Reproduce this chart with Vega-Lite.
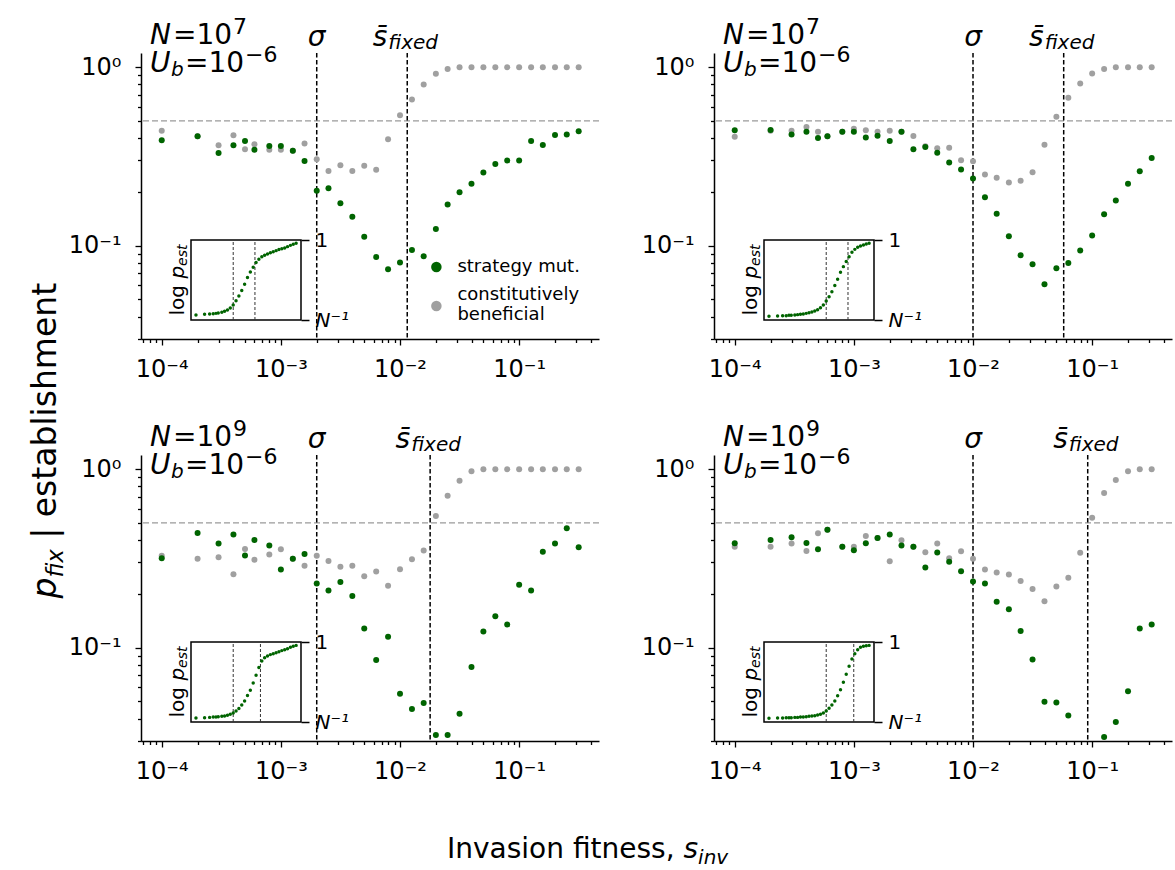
{
"$schema":"https://vega.github.io/schema/vega-lite/v6.json",
"background":"white",
"padding":{"left":0,"top":15,"right":0,"bottom":0},
"config":{"view":{"stroke":null},"font":"DejaVu Sans","text":{"color":"black"}},
"datasets":{
"lines":[
{"panel":"A","kind":"sigma","s":0.002},{"panel":"A","kind":"sfix","s":0.0115},
{"panel":"B","kind":"sigma","s":0.01},{"panel":"B","kind":"sfix","s":0.0577},
{"panel":"C","kind":"sigma","s":0.002},{"panel":"C","kind":"sfix","s":0.0179},
{"panel":"D","kind":"sigma","s":0.01},{"panel":"D","kind":"sfix","s":0.0918}],
"pts":[
{"panel":"A","s":0.0001,"g":0.39,"c":0.44,"lp":-6.56},
{"panel":"A","s":0.0002,"g":0.41,"c":0.41,"lp":-6.50},
{"panel":"A","s":0.0003,"g":0.33,"c":0.365,"lp":-6.48},
{"panel":"A","s":0.0004,"g":0.365,"c":0.415,"lp":-6.45},
{"panel":"A","s":0.0005,"g":0.386,"c":0.347,"lp":-6.42},
{"panel":"A","s":0.0006,"g":0.344,"c":0.37,"lp":-6.39},
{"panel":"A","s":0.0008,"g":0.362,"c":0.344,"lp":-6.33},
{"panel":"A","s":0.001,"g":0.362,"c":0.344,"lp":-6.24},
{"panel":"A","s":0.00126,"g":0.34,"c":0.34,"lp":-6.13},
{"panel":"A","s":0.00158,"g":0.298,"c":0.373,"lp":-5.95},
{"panel":"A","s":0.002,"g":0.203,"c":0.305,"lp":-5.69},
{"panel":"A","s":0.00251,"g":0.21,"c":0.262,"lp":-5.32},
{"panel":"A","s":0.00316,"g":0.173,"c":0.282,"lp":-4.90},
{"panel":"A","s":0.00398,"g":0.145,"c":0.262,"lp":-4.41},
{"panel":"A","s":0.00501,"g":0.112,"c":0.28,"lp":-3.88},
{"panel":"A","s":0.00631,"g":0.0865,"c":0.266,"lp":-3.29},
{"panel":"A","s":0.00794,"g":0.0738,"c":0.394,"lp":-2.80},
{"panel":"A","s":0.01,"g":0.0804,"c":0.537,"lp":-2.38},
{"panel":"A","s":0.0126,"g":0.0946,"c":0.659,"lp":-1.96},
{"panel":"A","s":0.0158,"g":0.0872,"c":0.80,"lp":-1.68},
{"panel":"A","s":0.02,"g":0.124,"c":0.918,"lp":-1.47},
{"panel":"A","s":0.0251,"g":0.17,"c":0.975,"lp":-1.33},
{"panel":"A","s":0.0316,"g":0.199,"c":1,"lp":-1.23},
{"panel":"A","s":0.0398,"g":0.222,"c":1,"lp":-1.12},
{"panel":"A","s":0.0501,"g":0.257,"c":1,"lp":-1.02},
{"panel":"A","s":0.0631,"g":0.287,"c":1,"lp":-0.93},
{"panel":"A","s":0.0794,"g":0.30,"c":1,"lp":-0.84},
{"panel":"A","s":0.1,"g":0.30,"c":1,"lp":-0.77},
{"panel":"A","s":0.126,"g":0.386,"c":1,"lp":-0.70},
{"panel":"A","s":0.158,"g":0.366,"c":1,"lp":-0.58},
{"panel":"A","s":0.2,"g":0.417,"c":1,"lp":-0.47},
{"panel":"A","s":0.251,"g":0.42,"c":1,"lp":-0.38},
{"panel":"A","s":0.316,"g":0.437,"c":1,"lp":-0.29},
{"panel":"B","s":0.0001,"g":0.443,"c":0.408,"lp":-6.68},
{"panel":"B","s":0.0002,"g":0.444,"c":0.44,"lp":-6.65},
{"panel":"B","s":0.0003,"g":0.419,"c":0.44,"lp":-6.62},
{"panel":"B","s":0.0004,"g":0.435,"c":0.462,"lp":-6.62},
{"panel":"B","s":0.0005,"g":0.401,"c":0.435,"lp":-6.59},
{"panel":"B","s":0.0006,"g":0.41,"c":0.41,"lp":-6.59},
{"panel":"B","s":0.0008,"g":0.435,"c":0.435,"lp":-6.56},
{"panel":"B","s":0.001,"g":0.435,"c":0.452,"lp":-6.53},
{"panel":"B","s":0.00126,"g":0.403,"c":0.443,"lp":-6.50},
{"panel":"B","s":0.00158,"g":0.413,"c":0.435,"lp":-6.48},
{"panel":"B","s":0.002,"g":0.386,"c":0.44,"lp":-6.42},
{"panel":"B","s":0.00251,"g":0.434,"c":0.434,"lp":-6.36},
{"panel":"B","s":0.00316,"g":0.347,"c":0.412,"lp":-6.30},
{"panel":"B","s":0.00398,"g":0.357,"c":0.36,"lp":-6.21},
{"panel":"B","s":0.00501,"g":0.331,"c":0.351,"lp":-6.10},
{"panel":"B","s":0.00631,"g":0.292,"c":0.353,"lp":-5.92},
{"panel":"B","s":0.00794,"g":0.267,"c":0.301,"lp":-5.69},
{"panel":"B","s":0.01,"g":0.238,"c":0.297,"lp":-5.34},
{"panel":"B","s":0.0126,"g":0.187,"c":0.25,"lp":-4.97},
{"panel":"B","s":0.0158,"g":0.151,"c":0.24,"lp":-4.52},
{"panel":"B","s":0.02,"g":0.113,"c":0.226,"lp":-3.99},
{"panel":"B","s":0.0251,"g":0.0883,"c":0.231,"lp":-3.43},
{"panel":"B","s":0.0316,"g":0.0787,"c":0.258,"lp":-2.83},
{"panel":"B","s":0.0398,"g":0.0608,"c":0.368,"lp":-2.33},
{"panel":"B","s":0.0501,"g":0.0747,"c":0.528,"lp":-1.89},
{"panel":"B","s":0.0631,"g":0.08,"c":0.674,"lp":-1.47},
{"panel":"B","s":0.0794,"g":0.0938,"c":0.81,"lp":-1.08},
{"panel":"B","s":0.1,"g":0.114,"c":0.92,"lp":-0.82},
{"panel":"B","s":0.126,"g":0.15,"c":0.975,"lp":-0.64},
{"panel":"B","s":0.158,"g":0.179,"c":1,"lp":-0.53},
{"panel":"B","s":0.2,"g":0.222,"c":1,"lp":-0.44},
{"panel":"B","s":0.251,"g":0.261,"c":1,"lp":-0.35},
{"panel":"B","s":0.316,"g":0.31,"c":1,"lp":-0.29},
{"panel":"C","s":0.0001,"g":0.317,"c":0.327,"lp":-8.55},
{"panel":"C","s":0.0002,"g":0.439,"c":0.315,"lp":-8.51},
{"panel":"C","s":0.0003,"g":0.383,"c":0.321,"lp":-8.48},
{"panel":"C","s":0.0004,"g":0.431,"c":0.258,"lp":-8.44},
{"panel":"C","s":0.0005,"g":0.328,"c":0.357,"lp":-8.44},
{"panel":"C","s":0.0006,"g":0.401,"c":0.311,"lp":-8.40},
{"panel":"C","s":0.0008,"g":0.373,"c":0.332,"lp":-8.36},
{"panel":"C","s":0.001,"g":0.274,"c":0.356,"lp":-8.33},
{"panel":"C","s":0.00126,"g":0.315,"c":0.315,"lp":-8.25},
{"panel":"C","s":0.00158,"g":0.335,"c":0.288,"lp":-8.14},
{"panel":"C","s":0.002,"g":0.229,"c":0.327,"lp":-7.99},
{"panel":"C","s":0.00251,"g":0.209,"c":0.306,"lp":-7.76},
{"panel":"C","s":0.00316,"g":0.233,"c":0.284,"lp":-7.47},
{"panel":"C","s":0.00398,"g":0.195,"c":0.288,"lp":-7.09},
{"panel":"C","s":0.00501,"g":0.128,"c":0.251,"lp":-6.64},
{"panel":"C","s":0.00631,"g":0.0853,"c":0.267,"lp":-6.03},
{"panel":"C","s":0.00794,"g":0.115,"c":0.222,"lp":-5.44},
{"panel":"C","s":0.01,"g":0.0551,"c":0.275,"lp":-4.61},
{"panel":"C","s":0.0126,"g":0.0453,"c":0.313,"lp":-3.75},
{"panel":"C","s":0.0158,"g":0.0489,"c":0.35,"lp":-2.88},
{"panel":"C","s":0.02,"g":0.0324,"c":0.546,"lp":-2.14},
{"panel":"C","s":0.0251,"g":0.0324,"c":0.71,"lp":-1.76},
{"panel":"C","s":0.0316,"g":0.0426,"c":0.861,"lp":-1.58},
{"panel":"C","s":0.0398,"g":0.078,"c":0.974,"lp":-1.42},
{"panel":"C","s":0.0501,"g":0.123,"c":1,"lp":-1.31},
{"panel":"C","s":0.0631,"g":0.15,"c":1,"lp":-1.20},
{"panel":"C","s":0.0794,"g":0.135,"c":1,"lp":-1.09},
{"panel":"C","s":0.1,"g":0.225,"c":1,"lp":-0.97},
{"panel":"C","s":0.126,"g":0.209,"c":1,"lp":-0.86},
{"panel":"C","s":0.158,"g":0.344,"c":1,"lp":-0.75},
{"panel":"C","s":0.2,"g":0.383,"c":1,"lp":-0.60},
{"panel":"C","s":0.251,"g":0.466,"c":1,"lp":-0.49},
{"panel":"C","s":0.316,"g":0.365,"c":1,"lp":-0.38},
{"panel":"D","s":0.0001,"g":0.384,"c":0.367,"lp":-8.59},
{"panel":"D","s":0.0002,"g":0.401,"c":0.367,"lp":-8.55},
{"panel":"D","s":0.0003,"g":0.415,"c":0.383,"lp":-8.55},
{"panel":"D","s":0.0004,"g":0.386,"c":0.348,"lp":-8.51},
{"panel":"D","s":0.0005,"g":0.356,"c":0.437,"lp":-8.51},
{"panel":"D","s":0.0006,"g":0.458,"c":0.458,"lp":-8.51},
{"panel":"D","s":0.0008,"g":0.367,"c":0.367,"lp":-8.48},
{"panel":"D","s":0.001,"g":0.351,"c":0.367,"lp":-8.48},
{"panel":"D","s":0.00126,"g":0.384,"c":0.422,"lp":-8.44},
{"panel":"D","s":0.00158,"g":0.412,"c":0.412,"lp":-8.44},
{"panel":"D","s":0.002,"g":0.431,"c":0.305,"lp":-8.40},
{"panel":"D","s":0.00251,"g":0.373,"c":0.399,"lp":-8.36},
{"panel":"D","s":0.00316,"g":0.368,"c":0.368,"lp":-8.33},
{"panel":"D","s":0.00398,"g":0.281,"c":0.342,"lp":-8.29},
{"panel":"D","s":0.00501,"g":0.341,"c":0.383,"lp":-8.21},
{"panel":"D","s":0.00631,"g":0.303,"c":0.317,"lp":-8.14},
{"panel":"D","s":0.00794,"g":0.268,"c":0.347,"lp":-7.99},
{"panel":"D","s":0.01,"g":0.235,"c":0.315,"lp":-7.76},
{"panel":"D","s":0.0126,"g":0.229,"c":0.274,"lp":-7.46},
{"panel":"D","s":0.0158,"g":0.181,"c":0.264,"lp":-7.09},
{"panel":"D","s":0.02,"g":0.164,"c":0.257,"lp":-6.64},
{"panel":"D","s":0.0251,"g":0.124,"c":0.236,"lp":-6.04},
{"panel":"D","s":0.0316,"g":0.0857,"c":0.213,"lp":-5.36},
{"panel":"D","s":0.0398,"g":0.0497,"c":0.182,"lp":-4.54},
{"panel":"D","s":0.0501,"g":0.0493,"c":0.22,"lp":-3.64},
{"panel":"D","s":0.0631,"g":0.0417,"c":0.246,"lp":-2.74},
{"panel":"D","s":0.0794,"g":null,"c":0.34,"lp":-1.91},
{"panel":"D","s":0.1,"g":null,"c":0.535,"lp":-1.31},
{"panel":"D","s":0.126,"g":0.0316,"c":0.734,"lp":-0.86},
{"panel":"D","s":0.158,"g":0.0383,"c":0.869,"lp":-0.60},
{"panel":"D","s":0.2,"g":0.057,"c":0.974,"lp":-0.49},
{"panel":"D","s":0.251,"g":0.128,"c":1,"lp":-0.41},
{"panel":"D","s":0.316,"g":0.135,"c":1,"lp":-0.38}]
},
"concat":[
{"width":25.5,"height":286,"data":{"values":[{}]},
 "layer":[
  {"mark":{"type":"text","font":"DejaVu Sans","fontStyle":"italic","fontSize":33,"angle":270,"align":"left","baseline":"alphabetic","dx":-402.5,"dy":43.25,"color":"black"},
   "encoding":{"x":{"datum":0.5,"type":"quantitative","scale":{"domain":[0,1]},"axis":null},"y":{"datum":0.5,"type":"quantitative","scale":{"domain":[0,1]},"axis":null},"text":{"value":"p"}}},
  {"mark":{"type":"text","font":"DejaVu Sans","fontStyle":"italic","fontSize":23,"angle":270,"align":"left","baseline":"alphabetic","dx":-381.5,"dy":50.25,"color":"black"},
   "encoding":{"x":{"datum":0.5,"type":"quantitative","scale":{"domain":[0,1]},"axis":null},"y":{"datum":0.5,"type":"quantitative","scale":{"domain":[0,1]},"axis":null},"text":{"value":"fix"}}},
  {"mark":{"type":"text","font":"DejaVu Sans","fontSize":33,"angle":270,"align":"left","baseline":"alphabetic","dx":-342.8,"dy":43.25,"color":"black"},
   "encoding":{"x":{"datum":0.5,"type":"quantitative","scale":{"domain":[0,1]},"axis":null},"y":{"datum":0.5,"type":"quantitative","scale":{"domain":[0,1]},"axis":null},"text":{"value":"| establishment"}}}
 ]},
{"width":458,"height":286,
 "layer":[
  {"layer":[
   {"data":{"values":[{}]},"mark":{"type":"rule","color":"#9a9a9a","strokeDash":[6,3],"strokeWidth":1.3},
    "encoding":{"y":{"datum":0.5,"type":"quantitative","scale":{"type":"log","domain":[0.03,1.2],"nice":false},"title":null}}},
   {"data":{"name":"lines"},"transform":[{"filter":"datum.panel=='A'"}],"mark":{"type":"rule","color":"black","strokeDash":[4.5,2.5],"strokeWidth":1.5},
    "encoding":{"x":{"field":"s","type":"quantitative","scale":{"type":"log","domain":[0.000067,0.468],"nice":false},"title":null}}},
   {"data":{"name":"pts"},"transform":[{"filter":"datum.panel=='A'"},{"fold":["c","g"],"as":["series","p"]},{"filter":"isValid(datum.p)"}],
    "mark":{"type":"circle","size":36,"opacity":1},
    "encoding":{
     "x":{"field":"s","type":"quantitative","scale":{"type":"log","domain":[0.000067,0.468],"nice":false},"title":null,
      "axis":{"values":[0.00007,0.00008,0.00009,0.0001,0.0002,0.0003,0.0004,0.0005,0.0006,0.0007,0.0008,0.0009,0.001,0.002,0.003,0.004,0.005,0.006,0.007,0.008,0.009,0.01,0.02,0.03,0.04,0.05,0.06,0.07,0.08,0.09,0.1,0.2,0.3,0.4],
       "labelExpr":"abs(log(datum.value)/LN10-round(log(datum.value)/LN10))<0.001 ? ['10⁻⁴','10⁻³','10⁻²','10⁻¹','10⁰'][round(log(datum.value)/LN10)+4] : ''",
       "tickSize":{"condition":{"test":"abs(log(datum.value)/LN10-round(log(datum.value)/LN10))<0.001","value":6},"value":3.5},
       "tickWidth":1.3,"tickColor":"black","domainColor":"black","domainWidth":1.5,"labelFont":"DejaVu Sans","labelFontSize":24,"labelColor":"black","labelPadding":12,"labelFlush":false,"labelOverlap":false,"grid":false,"title":null}},
     "y":{"field":"p","type":"quantitative","scale":{"type":"log","domain":[0.03,1.2],"nice":false},"title":null,
      "axis":{"values":[0.03,0.04,0.05,0.06,0.07,0.08,0.09,0.1,0.2,0.3,0.4,0.5,0.6,0.7,0.8,0.9,1],
       "labelExpr":"abs(log(datum.value)/LN10-round(log(datum.value)/LN10))<0.001 ? ['10⁻⁴','10⁻³','10⁻²','10⁻¹','10⁰'][round(log(datum.value)/LN10)+4] : ''",
       "tickSize":{"condition":{"test":"abs(log(datum.value)/LN10-round(log(datum.value)/LN10))<0.001","value":6},"value":3.5},
       "tickWidth":1.3,"tickColor":"black","domainColor":"black","domainWidth":1.5,"labelFont":"DejaVu Sans","labelFontSize":24,"labelColor":"black","labelPadding":14,"labelFlush":false,"labelOverlap":false,"grid":false,"title":null}},
     "color":{"field":"series","type":"nominal","scale":{"domain":["g","c"],"range":["#006400","#a0a0a0"]},"legend":null}}},
   {"data":{"name":"lines"},"transform":[{"filter":"datum.panel=='A' && datum.kind=='sigma'"}],"mark":{"type":"text","fontStyle":"italic","fontSize":28,"align":"center","baseline":"alphabetic","dy":-7,"color":"black"},
    "encoding":{"x":{"field":"s","type":"quantitative","scale":{"type":"log","domain":[0.000067,0.468],"nice":false},"title":null},"y":{"datum":1.2,"type":"quantitative","scale":{"type":"log","domain":[0.03,1.2],"nice":false},"title":null},"text":{"value":"σ"}}},
   {"data":{"name":"lines"},"transform":[{"filter":"datum.panel=='A' && datum.kind=='sfix'"}],"mark":{"type":"text","fontStyle":"italic","fontSize":28,"align":"right","baseline":"alphabetic","dx":-20,"dy":-7,"color":"black"},
    "encoding":{"x":{"field":"s","type":"quantitative","scale":{"type":"log","domain":[0.000067,0.468],"nice":false},"title":null},"y":{"datum":1.2,"type":"quantitative","scale":{"type":"log","domain":[0.03,1.2],"nice":false},"title":null},"text":{"value":"s̄"}}},
   {"data":{"name":"lines"},"transform":[{"filter":"datum.panel=='A' && datum.kind=='sfix'"}],"mark":{"type":"text","fontStyle":"italic","fontSize":20,"align":"left","baseline":"alphabetic","dx":-19,"dy":-4,"color":"black"},
    "encoding":{"x":{"field":"s","type":"quantitative","scale":{"type":"log","domain":[0.000067,0.468],"nice":false},"title":null},"y":{"datum":1.2,"type":"quantitative","scale":{"type":"log","domain":[0.03,1.2],"nice":false},"title":null},"text":{"value":"fixed"}}},
   {"data":{"values":[{}]},"mark":{"type":"text","fontStyle":"italic","fontSize":28,"align":"left","baseline":"alphabetic","dx":9,"dy":-9.5,"color":"black"},
    "encoding":{"x":{"datum":0.000067,"type":"quantitative","scale":{"type":"log","domain":[0.000067,0.468],"nice":false},"title":null},"y":{"datum":1.2,"type":"quantitative","scale":{"type":"log","domain":[0.03,1.2],"nice":false},"title":null},"text":{"value":"N"}}},
   {"data":{"values":[{}]},"mark":{"type":"text","fontSize":28,"align":"left","baseline":"alphabetic","dx":32,"dy":-9.5,"color":"black"},
    "encoding":{"x":{"datum":0.000067,"type":"quantitative","scale":{"type":"log","domain":[0.000067,0.468],"nice":false},"title":null},"y":{"datum":1.2,"type":"quantitative","scale":{"type":"log","domain":[0.03,1.2],"nice":false},"title":null},"text":{"value":"=10"}}},
   {"data":{"values":[{}]},"mark":{"type":"text","fontSize":22,"align":"left","baseline":"alphabetic","dx":92,"dy":-19.5,"color":"black"},
    "encoding":{"x":{"datum":0.000067,"type":"quantitative","scale":{"type":"log","domain":[0.000067,0.468],"nice":false},"title":null},"y":{"datum":1.2,"type":"quantitative","scale":{"type":"log","domain":[0.03,1.2],"nice":false},"title":null},"text":{"value":"7"}}},
   {"data":{"values":[{}]},"mark":{"type":"text","fontStyle":"italic","fontSize":28,"align":"left","baseline":"alphabetic","dx":9,"dy":18.5,"color":"black"},
    "encoding":{"x":{"datum":0.000067,"type":"quantitative","scale":{"type":"log","domain":[0.000067,0.468],"nice":false},"title":null},"y":{"datum":1.2,"type":"quantitative","scale":{"type":"log","domain":[0.03,1.2],"nice":false},"title":null},"text":{"value":"U"}}},
   {"data":{"values":[{}]},"mark":{"type":"text","fontStyle":"italic","fontSize":20,"align":"left","baseline":"alphabetic","dx":30,"dy":22.5,"color":"black"},
    "encoding":{"x":{"datum":0.000067,"type":"quantitative","scale":{"type":"log","domain":[0.000067,0.468],"nice":false},"title":null},"y":{"datum":1.2,"type":"quantitative","scale":{"type":"log","domain":[0.03,1.2],"nice":false},"title":null},"text":{"value":"b"}}},
   {"data":{"values":[{}]},"mark":{"type":"text","fontSize":28,"align":"left","baseline":"alphabetic","dx":44,"dy":18.5,"color":"black"},
    "encoding":{"x":{"datum":0.000067,"type":"quantitative","scale":{"type":"log","domain":[0.000067,0.468],"nice":false},"title":null},"y":{"datum":1.2,"type":"quantitative","scale":{"type":"log","domain":[0.03,1.2],"nice":false},"title":null},"text":{"value":"=10"}}},
   {"data":{"values":[{}]},"mark":{"type":"text","fontSize":22,"align":"left","baseline":"alphabetic","dx":104,"dy":8.5,"color":"black"},
    "encoding":{"x":{"datum":0.000067,"type":"quantitative","scale":{"type":"log","domain":[0.000067,0.468],"nice":false},"title":null},"y":{"datum":1.2,"type":"quantitative","scale":{"type":"log","domain":[0.03,1.2],"nice":false},"title":null},"text":{"value":"−6"}}},
   {"data":{"values":[{}]},"mark":{"type":"circle","size":110,"color":"#006400","opacity":1},
    "encoding":{"x":{"datum":0.0202,"type":"quantitative","scale":{"type":"log","domain":[0.000067,0.468],"nice":false},"title":null},"y":{"datum":0.0759,"type":"quantitative","scale":{"type":"log","domain":[0.03,1.2],"nice":false},"title":null}}},
   {"data":{"values":[{}]},"mark":{"type":"circle","size":110,"color":"#a0a0a0","opacity":1},
    "encoding":{"x":{"datum":0.0202,"type":"quantitative","scale":{"type":"log","domain":[0.000067,0.468],"nice":false},"title":null},"y":{"datum":0.0459,"type":"quantitative","scale":{"type":"log","domain":[0.03,1.2],"nice":false},"title":null}}},
   {"data":{"values":[{}]},"mark":{"type":"text","fontSize":18,"align":"left","baseline":"middle","dx":21,"color":"black"},
    "encoding":{"x":{"datum":0.0202,"type":"quantitative","scale":{"type":"log","domain":[0.000067,0.468],"nice":false},"title":null},"y":{"datum":0.0759,"type":"quantitative","scale":{"type":"log","domain":[0.03,1.2],"nice":false},"title":null},"text":{"value":"strategy mut."}}},
   {"data":{"values":[{}]},"mark":{"type":"text","fontSize":18,"align":"left","baseline":"middle","dx":21,"dy":-11,"color":"black"},
    "encoding":{"x":{"datum":0.0202,"type":"quantitative","scale":{"type":"log","domain":[0.000067,0.468],"nice":false},"title":null},"y":{"datum":0.0459,"type":"quantitative","scale":{"type":"log","domain":[0.03,1.2],"nice":false},"title":null},"text":{"value":"constitutively"}}},
   {"data":{"values":[{}]},"mark":{"type":"text","fontSize":18,"align":"left","baseline":"middle","dx":21,"dy":9,"color":"black"},
    "encoding":{"x":{"datum":0.0202,"type":"quantitative","scale":{"type":"log","domain":[0.000067,0.468],"nice":false},"title":null},"y":{"datum":0.0459,"type":"quantitative","scale":{"type":"log","domain":[0.03,1.2],"nice":false},"title":null},"text":{"value":"beneficial"}}}
  ]},
  {"layer":[
   {"data":{"values":[{}]},"mark":{"type":"rect","fill":"transparent","stroke":"black","strokeWidth":1.5},
    "encoding":{"x":{"datum":0.000067,"type":"quantitative","scale":{"type":"log","domain":[0.0000011988,12148000000],"nice":false},"axis":null,"title":null},"x2":{"datum":0.468},
     "y":{"datum":-7,"type":"quantitative","scale":{"type":"linear","domain":[-8.6625,16.3625],"nice":false,"zero":false},"title":null},"y2":{"datum":0}}},
   {"data":{"name":"lines"},"transform":[{"filter":"datum.panel=='A'"}],"mark":{"type":"rule","color":"#333333","strokeDash":[3,2],"strokeWidth":1},
    "encoding":{"x":{"field":"s","type":"quantitative","scale":{"type":"log","domain":[0.0000011988,12148000000],"nice":false},"axis":null,"title":null},
     "y":{"datum":-7,"type":"quantitative","scale":{"type":"linear","domain":[-8.6625,16.3625],"nice":false,"zero":false},"title":null},"y2":{"datum":0}}},
   {"data":{"name":"pts"},"transform":[{"filter":"datum.panel=='A'"}],"mark":{"type":"circle","size":12,"color":"#006400","opacity":1},
    "encoding":{"x":{"field":"s","type":"quantitative","scale":{"type":"log","domain":[0.0000011988,12148000000],"nice":false},"axis":null,"title":null},
     "y":{"field":"lp","type":"quantitative","scale":{"type":"linear","domain":[-8.6625,16.3625],"nice":false,"zero":false},"title":null,
      "axis":{"orient":"right","offset":-298,"values":[-7,0],"tickSize":8,"tickWidth":1.5,"tickColor":"black","domain":false,"labelExpr":"datum.value < -1 ? 'N⁻¹' : '1'","labelFontStyle":{"condition":{"test":"datum.value < -1","value":"italic"},"value":"normal"},"labelFont":"DejaVu Sans","labelFontSize":20,"labelColor":"black","labelPadding":6,"grid":false,"title":null,"labelFlush":false,"labelOverlap":false}}}},
   {"data":{"values":[{}]},"mark":{"type":"text","fontSize":20,"angle":270,"align":"left","baseline":"alphabetic","dx":-35.5,"dy":-7,"color":"black"},
    "encoding":{"x":{"datum":0.000067,"type":"quantitative","scale":{"type":"log","domain":[0.0000011988,12148000000],"nice":false},"axis":null,"title":null},"y":{"datum":-3.5,"type":"quantitative","scale":{"type":"linear","domain":[-8.6625,16.3625],"nice":false,"zero":false},"title":null},"text":{"value":"log"}}},
   {"data":{"values":[{}]},"mark":{"type":"text","fontSize":20,"fontStyle":"italic","angle":270,"align":"left","baseline":"alphabetic","dx":1.4,"dy":-7,"color":"black"},
    "encoding":{"x":{"datum":0.000067,"type":"quantitative","scale":{"type":"log","domain":[0.0000011988,12148000000],"nice":false},"axis":null,"title":null},"y":{"datum":-3.5,"type":"quantitative","scale":{"type":"linear","domain":[-8.6625,16.3625],"nice":false,"zero":false},"title":null},"text":{"value":"p"}}},
   {"data":{"values":[{}]},"mark":{"type":"text","fontSize":14,"fontStyle":"italic","angle":270,"align":"left","baseline":"alphabetic","dx":14.1,"dy":-4,"color":"black"},
    "encoding":{"x":{"datum":0.000067,"type":"quantitative","scale":{"type":"log","domain":[0.0000011988,12148000000],"nice":false},"axis":null,"title":null},"y":{"datum":-3.5,"type":"quantitative","scale":{"type":"linear","domain":[-8.6625,16.3625],"nice":false,"zero":false},"title":null},"text":{"value":"est"}}}
  ]}
 ],
 "resolve":{"scale":{"x":"independent","y":"independent"}}},
{"width":458,"height":286,
 "layer":[
  {"layer":[
   {"data":{"values":[{}]},"mark":{"type":"rule","color":"#9a9a9a","strokeDash":[6,3],"strokeWidth":1.3},
    "encoding":{"y":{"datum":0.5,"type":"quantitative","scale":{"type":"log","domain":[0.03,1.2],"nice":false},"title":null}}},
   {"data":{"name":"lines"},"transform":[{"filter":"datum.panel=='B'"}],"mark":{"type":"rule","color":"black","strokeDash":[4.5,2.5],"strokeWidth":1.5},
    "encoding":{"x":{"field":"s","type":"quantitative","scale":{"type":"log","domain":[0.000067,0.468],"nice":false},"title":null}}},
   {"data":{"name":"pts"},"transform":[{"filter":"datum.panel=='B'"},{"fold":["c","g"],"as":["series","p"]},{"filter":"isValid(datum.p)"}],
    "mark":{"type":"circle","size":36,"opacity":1},
    "encoding":{
     "x":{"field":"s","type":"quantitative","scale":{"type":"log","domain":[0.000067,0.468],"nice":false},"title":null,
      "axis":{"values":[0.00007,0.00008,0.00009,0.0001,0.0002,0.0003,0.0004,0.0005,0.0006,0.0007,0.0008,0.0009,0.001,0.002,0.003,0.004,0.005,0.006,0.007,0.008,0.009,0.01,0.02,0.03,0.04,0.05,0.06,0.07,0.08,0.09,0.1,0.2,0.3,0.4],
       "labelExpr":"abs(log(datum.value)/LN10-round(log(datum.value)/LN10))<0.001 ? ['10⁻⁴','10⁻³','10⁻²','10⁻¹','10⁰'][round(log(datum.value)/LN10)+4] : ''",
       "tickSize":{"condition":{"test":"abs(log(datum.value)/LN10-round(log(datum.value)/LN10))<0.001","value":6},"value":3.5},
       "tickWidth":1.3,"tickColor":"black","domainColor":"black","domainWidth":1.5,"labelFont":"DejaVu Sans","labelFontSize":24,"labelColor":"black","labelPadding":12,"labelFlush":false,"labelOverlap":false,"grid":false,"title":null}},
     "y":{"field":"p","type":"quantitative","scale":{"type":"log","domain":[0.03,1.2],"nice":false},"title":null,
      "axis":{"values":[0.03,0.04,0.05,0.06,0.07,0.08,0.09,0.1,0.2,0.3,0.4,0.5,0.6,0.7,0.8,0.9,1],
       "labelExpr":"abs(log(datum.value)/LN10-round(log(datum.value)/LN10))<0.001 ? ['10⁻⁴','10⁻³','10⁻²','10⁻¹','10⁰'][round(log(datum.value)/LN10)+4] : ''",
       "tickSize":{"condition":{"test":"abs(log(datum.value)/LN10-round(log(datum.value)/LN10))<0.001","value":6},"value":3.5},
       "tickWidth":1.3,"tickColor":"black","domainColor":"black","domainWidth":1.5,"labelFont":"DejaVu Sans","labelFontSize":24,"labelColor":"black","labelPadding":14,"labelFlush":false,"labelOverlap":false,"grid":false,"title":null}},
     "color":{"field":"series","type":"nominal","scale":{"domain":["g","c"],"range":["#006400","#a0a0a0"]},"legend":null}}},
   {"data":{"name":"lines"},"transform":[{"filter":"datum.panel=='B' && datum.kind=='sigma'"}],"mark":{"type":"text","fontStyle":"italic","fontSize":28,"align":"center","baseline":"alphabetic","dy":-7,"color":"black"},
    "encoding":{"x":{"field":"s","type":"quantitative","scale":{"type":"log","domain":[0.000067,0.468],"nice":false},"title":null},"y":{"datum":1.2,"type":"quantitative","scale":{"type":"log","domain":[0.03,1.2],"nice":false},"title":null},"text":{"value":"σ"}}},
   {"data":{"name":"lines"},"transform":[{"filter":"datum.panel=='B' && datum.kind=='sfix'"}],"mark":{"type":"text","fontStyle":"italic","fontSize":28,"align":"right","baseline":"alphabetic","dx":-20,"dy":-7,"color":"black"},
    "encoding":{"x":{"field":"s","type":"quantitative","scale":{"type":"log","domain":[0.000067,0.468],"nice":false},"title":null},"y":{"datum":1.2,"type":"quantitative","scale":{"type":"log","domain":[0.03,1.2],"nice":false},"title":null},"text":{"value":"s̄"}}},
   {"data":{"name":"lines"},"transform":[{"filter":"datum.panel=='B' && datum.kind=='sfix'"}],"mark":{"type":"text","fontStyle":"italic","fontSize":20,"align":"left","baseline":"alphabetic","dx":-19,"dy":-4,"color":"black"},
    "encoding":{"x":{"field":"s","type":"quantitative","scale":{"type":"log","domain":[0.000067,0.468],"nice":false},"title":null},"y":{"datum":1.2,"type":"quantitative","scale":{"type":"log","domain":[0.03,1.2],"nice":false},"title":null},"text":{"value":"fixed"}}},
   {"data":{"values":[{}]},"mark":{"type":"text","fontStyle":"italic","fontSize":28,"align":"left","baseline":"alphabetic","dx":9,"dy":-9.5,"color":"black"},
    "encoding":{"x":{"datum":0.000067,"type":"quantitative","scale":{"type":"log","domain":[0.000067,0.468],"nice":false},"title":null},"y":{"datum":1.2,"type":"quantitative","scale":{"type":"log","domain":[0.03,1.2],"nice":false},"title":null},"text":{"value":"N"}}},
   {"data":{"values":[{}]},"mark":{"type":"text","fontSize":28,"align":"left","baseline":"alphabetic","dx":32,"dy":-9.5,"color":"black"},
    "encoding":{"x":{"datum":0.000067,"type":"quantitative","scale":{"type":"log","domain":[0.000067,0.468],"nice":false},"title":null},"y":{"datum":1.2,"type":"quantitative","scale":{"type":"log","domain":[0.03,1.2],"nice":false},"title":null},"text":{"value":"=10"}}},
   {"data":{"values":[{}]},"mark":{"type":"text","fontSize":22,"align":"left","baseline":"alphabetic","dx":92,"dy":-19.5,"color":"black"},
    "encoding":{"x":{"datum":0.000067,"type":"quantitative","scale":{"type":"log","domain":[0.000067,0.468],"nice":false},"title":null},"y":{"datum":1.2,"type":"quantitative","scale":{"type":"log","domain":[0.03,1.2],"nice":false},"title":null},"text":{"value":"7"}}},
   {"data":{"values":[{}]},"mark":{"type":"text","fontStyle":"italic","fontSize":28,"align":"left","baseline":"alphabetic","dx":9,"dy":18.5,"color":"black"},
    "encoding":{"x":{"datum":0.000067,"type":"quantitative","scale":{"type":"log","domain":[0.000067,0.468],"nice":false},"title":null},"y":{"datum":1.2,"type":"quantitative","scale":{"type":"log","domain":[0.03,1.2],"nice":false},"title":null},"text":{"value":"U"}}},
   {"data":{"values":[{}]},"mark":{"type":"text","fontStyle":"italic","fontSize":20,"align":"left","baseline":"alphabetic","dx":30,"dy":22.5,"color":"black"},
    "encoding":{"x":{"datum":0.000067,"type":"quantitative","scale":{"type":"log","domain":[0.000067,0.468],"nice":false},"title":null},"y":{"datum":1.2,"type":"quantitative","scale":{"type":"log","domain":[0.03,1.2],"nice":false},"title":null},"text":{"value":"b"}}},
   {"data":{"values":[{}]},"mark":{"type":"text","fontSize":28,"align":"left","baseline":"alphabetic","dx":44,"dy":18.5,"color":"black"},
    "encoding":{"x":{"datum":0.000067,"type":"quantitative","scale":{"type":"log","domain":[0.000067,0.468],"nice":false},"title":null},"y":{"datum":1.2,"type":"quantitative","scale":{"type":"log","domain":[0.03,1.2],"nice":false},"title":null},"text":{"value":"=10"}}},
   {"data":{"values":[{}]},"mark":{"type":"text","fontSize":22,"align":"left","baseline":"alphabetic","dx":104,"dy":8.5,"color":"black"},
    "encoding":{"x":{"datum":0.000067,"type":"quantitative","scale":{"type":"log","domain":[0.000067,0.468],"nice":false},"title":null},"y":{"datum":1.2,"type":"quantitative","scale":{"type":"log","domain":[0.03,1.2],"nice":false},"title":null},"text":{"value":"−6"}}}
  ]},
  {"layer":[
   {"data":{"values":[{}]},"mark":{"type":"rect","fill":"transparent","stroke":"black","strokeWidth":1.5},
    "encoding":{"x":{"datum":0.000067,"type":"quantitative","scale":{"type":"log","domain":[0.0000011988,12148000000],"nice":false},"axis":null,"title":null},"x2":{"datum":0.468},
     "y":{"datum":-7,"type":"quantitative","scale":{"type":"linear","domain":[-8.6625,16.3625],"nice":false,"zero":false},"title":null},"y2":{"datum":0}}},
   {"data":{"name":"lines"},"transform":[{"filter":"datum.panel=='B'"}],"mark":{"type":"rule","color":"#333333","strokeDash":[3,2],"strokeWidth":1},
    "encoding":{"x":{"field":"s","type":"quantitative","scale":{"type":"log","domain":[0.0000011988,12148000000],"nice":false},"axis":null,"title":null},
     "y":{"datum":-7,"type":"quantitative","scale":{"type":"linear","domain":[-8.6625,16.3625],"nice":false,"zero":false},"title":null},"y2":{"datum":0}}},
   {"data":{"name":"pts"},"transform":[{"filter":"datum.panel=='B'"}],"mark":{"type":"circle","size":12,"color":"#006400","opacity":1},
    "encoding":{"x":{"field":"s","type":"quantitative","scale":{"type":"log","domain":[0.0000011988,12148000000],"nice":false},"axis":null,"title":null},
     "y":{"field":"lp","type":"quantitative","scale":{"type":"linear","domain":[-8.6625,16.3625],"nice":false,"zero":false},"title":null,
      "axis":{"orient":"right","offset":-298,"values":[-7,0],"tickSize":8,"tickWidth":1.5,"tickColor":"black","domain":false,"labelExpr":"datum.value < -1 ? 'N⁻¹' : '1'","labelFontStyle":{"condition":{"test":"datum.value < -1","value":"italic"},"value":"normal"},"labelFont":"DejaVu Sans","labelFontSize":20,"labelColor":"black","labelPadding":6,"grid":false,"title":null,"labelFlush":false,"labelOverlap":false}}}},
   {"data":{"values":[{}]},"mark":{"type":"text","fontSize":20,"angle":270,"align":"left","baseline":"alphabetic","dx":-35.5,"dy":-7,"color":"black"},
    "encoding":{"x":{"datum":0.000067,"type":"quantitative","scale":{"type":"log","domain":[0.0000011988,12148000000],"nice":false},"axis":null,"title":null},"y":{"datum":-3.5,"type":"quantitative","scale":{"type":"linear","domain":[-8.6625,16.3625],"nice":false,"zero":false},"title":null},"text":{"value":"log"}}},
   {"data":{"values":[{}]},"mark":{"type":"text","fontSize":20,"fontStyle":"italic","angle":270,"align":"left","baseline":"alphabetic","dx":1.4,"dy":-7,"color":"black"},
    "encoding":{"x":{"datum":0.000067,"type":"quantitative","scale":{"type":"log","domain":[0.0000011988,12148000000],"nice":false},"axis":null,"title":null},"y":{"datum":-3.5,"type":"quantitative","scale":{"type":"linear","domain":[-8.6625,16.3625],"nice":false,"zero":false},"title":null},"text":{"value":"p"}}},
   {"data":{"values":[{}]},"mark":{"type":"text","fontSize":14,"fontStyle":"italic","angle":270,"align":"left","baseline":"alphabetic","dx":14.1,"dy":-4,"color":"black"},
    "encoding":{"x":{"datum":0.000067,"type":"quantitative","scale":{"type":"log","domain":[0.0000011988,12148000000],"nice":false},"axis":null,"title":null},"y":{"datum":-3.5,"type":"quantitative","scale":{"type":"linear","domain":[-8.6625,16.3625],"nice":false,"zero":false},"title":null},"text":{"value":"est"}}}
  ]}
 ],
 "resolve":{"scale":{"x":"independent","y":"independent"}}},
{"width":25.5,"height":1,"data":{"values":[{}]},"mark":{"type":"text"},"encoding":{"text":{"value":""}}},
{"width":458,"height":286,
 "layer":[
  {"layer":[
   {"data":{"values":[{}]},"mark":{"type":"rule","color":"#9a9a9a","strokeDash":[6,3],"strokeWidth":1.3},
    "encoding":{"y":{"datum":0.5,"type":"quantitative","scale":{"type":"log","domain":[0.03,1.2],"nice":false},"title":null}}},
   {"data":{"name":"lines"},"transform":[{"filter":"datum.panel=='C'"}],"mark":{"type":"rule","color":"black","strokeDash":[4.5,2.5],"strokeWidth":1.5},
    "encoding":{"x":{"field":"s","type":"quantitative","scale":{"type":"log","domain":[0.000067,0.468],"nice":false},"title":null}}},
   {"data":{"name":"pts"},"transform":[{"filter":"datum.panel=='C'"},{"fold":["c","g"],"as":["series","p"]},{"filter":"isValid(datum.p)"}],
    "mark":{"type":"circle","size":36,"opacity":1},
    "encoding":{
     "x":{"field":"s","type":"quantitative","scale":{"type":"log","domain":[0.000067,0.468],"nice":false},"title":null,
      "axis":{"values":[0.00007,0.00008,0.00009,0.0001,0.0002,0.0003,0.0004,0.0005,0.0006,0.0007,0.0008,0.0009,0.001,0.002,0.003,0.004,0.005,0.006,0.007,0.008,0.009,0.01,0.02,0.03,0.04,0.05,0.06,0.07,0.08,0.09,0.1,0.2,0.3,0.4],
       "labelExpr":"abs(log(datum.value)/LN10-round(log(datum.value)/LN10))<0.001 ? ['10⁻⁴','10⁻³','10⁻²','10⁻¹','10⁰'][round(log(datum.value)/LN10)+4] : ''",
       "tickSize":{"condition":{"test":"abs(log(datum.value)/LN10-round(log(datum.value)/LN10))<0.001","value":6},"value":3.5},
       "tickWidth":1.3,"tickColor":"black","domainColor":"black","domainWidth":1.5,"labelFont":"DejaVu Sans","labelFontSize":24,"labelColor":"black","labelPadding":12,"labelFlush":false,"labelOverlap":false,"grid":false,"title":null}},
     "y":{"field":"p","type":"quantitative","scale":{"type":"log","domain":[0.03,1.2],"nice":false},"title":null,
      "axis":{"values":[0.03,0.04,0.05,0.06,0.07,0.08,0.09,0.1,0.2,0.3,0.4,0.5,0.6,0.7,0.8,0.9,1],
       "labelExpr":"abs(log(datum.value)/LN10-round(log(datum.value)/LN10))<0.001 ? ['10⁻⁴','10⁻³','10⁻²','10⁻¹','10⁰'][round(log(datum.value)/LN10)+4] : ''",
       "tickSize":{"condition":{"test":"abs(log(datum.value)/LN10-round(log(datum.value)/LN10))<0.001","value":6},"value":3.5},
       "tickWidth":1.3,"tickColor":"black","domainColor":"black","domainWidth":1.5,"labelFont":"DejaVu Sans","labelFontSize":24,"labelColor":"black","labelPadding":14,"labelFlush":false,"labelOverlap":false,"grid":false,"title":null}},
     "color":{"field":"series","type":"nominal","scale":{"domain":["g","c"],"range":["#006400","#a0a0a0"]},"legend":null}}},
   {"data":{"name":"lines"},"transform":[{"filter":"datum.panel=='C' && datum.kind=='sigma'"}],"mark":{"type":"text","fontStyle":"italic","fontSize":28,"align":"center","baseline":"alphabetic","dy":-7,"color":"black"},
    "encoding":{"x":{"field":"s","type":"quantitative","scale":{"type":"log","domain":[0.000067,0.468],"nice":false},"title":null},"y":{"datum":1.2,"type":"quantitative","scale":{"type":"log","domain":[0.03,1.2],"nice":false},"title":null},"text":{"value":"σ"}}},
   {"data":{"name":"lines"},"transform":[{"filter":"datum.panel=='C' && datum.kind=='sfix'"}],"mark":{"type":"text","fontStyle":"italic","fontSize":28,"align":"right","baseline":"alphabetic","dx":-20,"dy":-7,"color":"black"},
    "encoding":{"x":{"field":"s","type":"quantitative","scale":{"type":"log","domain":[0.000067,0.468],"nice":false},"title":null},"y":{"datum":1.2,"type":"quantitative","scale":{"type":"log","domain":[0.03,1.2],"nice":false},"title":null},"text":{"value":"s̄"}}},
   {"data":{"name":"lines"},"transform":[{"filter":"datum.panel=='C' && datum.kind=='sfix'"}],"mark":{"type":"text","fontStyle":"italic","fontSize":20,"align":"left","baseline":"alphabetic","dx":-19,"dy":-4,"color":"black"},
    "encoding":{"x":{"field":"s","type":"quantitative","scale":{"type":"log","domain":[0.000067,0.468],"nice":false},"title":null},"y":{"datum":1.2,"type":"quantitative","scale":{"type":"log","domain":[0.03,1.2],"nice":false},"title":null},"text":{"value":"fixed"}}},
   {"data":{"values":[{}]},"mark":{"type":"text","fontStyle":"italic","fontSize":28,"align":"left","baseline":"alphabetic","dx":9,"dy":-9.5,"color":"black"},
    "encoding":{"x":{"datum":0.000067,"type":"quantitative","scale":{"type":"log","domain":[0.000067,0.468],"nice":false},"title":null},"y":{"datum":1.2,"type":"quantitative","scale":{"type":"log","domain":[0.03,1.2],"nice":false},"title":null},"text":{"value":"N"}}},
   {"data":{"values":[{}]},"mark":{"type":"text","fontSize":28,"align":"left","baseline":"alphabetic","dx":32,"dy":-9.5,"color":"black"},
    "encoding":{"x":{"datum":0.000067,"type":"quantitative","scale":{"type":"log","domain":[0.000067,0.468],"nice":false},"title":null},"y":{"datum":1.2,"type":"quantitative","scale":{"type":"log","domain":[0.03,1.2],"nice":false},"title":null},"text":{"value":"=10"}}},
   {"data":{"values":[{}]},"mark":{"type":"text","fontSize":22,"align":"left","baseline":"alphabetic","dx":92,"dy":-19.5,"color":"black"},
    "encoding":{"x":{"datum":0.000067,"type":"quantitative","scale":{"type":"log","domain":[0.000067,0.468],"nice":false},"title":null},"y":{"datum":1.2,"type":"quantitative","scale":{"type":"log","domain":[0.03,1.2],"nice":false},"title":null},"text":{"value":"9"}}},
   {"data":{"values":[{}]},"mark":{"type":"text","fontStyle":"italic","fontSize":28,"align":"left","baseline":"alphabetic","dx":9,"dy":18.5,"color":"black"},
    "encoding":{"x":{"datum":0.000067,"type":"quantitative","scale":{"type":"log","domain":[0.000067,0.468],"nice":false},"title":null},"y":{"datum":1.2,"type":"quantitative","scale":{"type":"log","domain":[0.03,1.2],"nice":false},"title":null},"text":{"value":"U"}}},
   {"data":{"values":[{}]},"mark":{"type":"text","fontStyle":"italic","fontSize":20,"align":"left","baseline":"alphabetic","dx":30,"dy":22.5,"color":"black"},
    "encoding":{"x":{"datum":0.000067,"type":"quantitative","scale":{"type":"log","domain":[0.000067,0.468],"nice":false},"title":null},"y":{"datum":1.2,"type":"quantitative","scale":{"type":"log","domain":[0.03,1.2],"nice":false},"title":null},"text":{"value":"b"}}},
   {"data":{"values":[{}]},"mark":{"type":"text","fontSize":28,"align":"left","baseline":"alphabetic","dx":44,"dy":18.5,"color":"black"},
    "encoding":{"x":{"datum":0.000067,"type":"quantitative","scale":{"type":"log","domain":[0.000067,0.468],"nice":false},"title":null},"y":{"datum":1.2,"type":"quantitative","scale":{"type":"log","domain":[0.03,1.2],"nice":false},"title":null},"text":{"value":"=10"}}},
   {"data":{"values":[{}]},"mark":{"type":"text","fontSize":22,"align":"left","baseline":"alphabetic","dx":104,"dy":8.5,"color":"black"},
    "encoding":{"x":{"datum":0.000067,"type":"quantitative","scale":{"type":"log","domain":[0.000067,0.468],"nice":false},"title":null},"y":{"datum":1.2,"type":"quantitative","scale":{"type":"log","domain":[0.03,1.2],"nice":false},"title":null},"text":{"value":"−6"}}}
  ]},
  {"layer":[
   {"data":{"values":[{}]},"mark":{"type":"rect","fill":"transparent","stroke":"black","strokeWidth":1.5},
    "encoding":{"x":{"datum":0.000067,"type":"quantitative","scale":{"type":"log","domain":[0.0000011988,12148000000],"nice":false},"axis":null,"title":null},"x2":{"datum":0.468},
     "y":{"datum":-9,"type":"quantitative","scale":{"type":"linear","domain":[-11.1375,21.0375],"nice":false,"zero":false},"title":null},"y2":{"datum":0}}},
   {"data":{"name":"lines"},"transform":[{"filter":"datum.panel=='C'"}],"mark":{"type":"rule","color":"#333333","strokeDash":[3,2],"strokeWidth":1},
    "encoding":{"x":{"field":"s","type":"quantitative","scale":{"type":"log","domain":[0.0000011988,12148000000],"nice":false},"axis":null,"title":null},
     "y":{"datum":-9,"type":"quantitative","scale":{"type":"linear","domain":[-11.1375,21.0375],"nice":false,"zero":false},"title":null},"y2":{"datum":0}}},
   {"data":{"name":"pts"},"transform":[{"filter":"datum.panel=='C'"}],"mark":{"type":"circle","size":12,"color":"#006400","opacity":1},
    "encoding":{"x":{"field":"s","type":"quantitative","scale":{"type":"log","domain":[0.0000011988,12148000000],"nice":false},"axis":null,"title":null},
     "y":{"field":"lp","type":"quantitative","scale":{"type":"linear","domain":[-11.1375,21.0375],"nice":false,"zero":false},"title":null,
      "axis":{"orient":"right","offset":-298,"values":[-9,0],"tickSize":8,"tickWidth":1.5,"tickColor":"black","domain":false,"labelExpr":"datum.value < -1 ? 'N⁻¹' : '1'","labelFontStyle":{"condition":{"test":"datum.value < -1","value":"italic"},"value":"normal"},"labelFont":"DejaVu Sans","labelFontSize":20,"labelColor":"black","labelPadding":6,"grid":false,"title":null,"labelFlush":false,"labelOverlap":false}}}},
   {"data":{"values":[{}]},"mark":{"type":"text","fontSize":20,"angle":270,"align":"left","baseline":"alphabetic","dx":-35.5,"dy":-7,"color":"black"},
    "encoding":{"x":{"datum":0.000067,"type":"quantitative","scale":{"type":"log","domain":[0.0000011988,12148000000],"nice":false},"axis":null,"title":null},"y":{"datum":-4.5,"type":"quantitative","scale":{"type":"linear","domain":[-11.1375,21.0375],"nice":false,"zero":false},"title":null},"text":{"value":"log"}}},
   {"data":{"values":[{}]},"mark":{"type":"text","fontSize":20,"fontStyle":"italic","angle":270,"align":"left","baseline":"alphabetic","dx":1.4,"dy":-7,"color":"black"},
    "encoding":{"x":{"datum":0.000067,"type":"quantitative","scale":{"type":"log","domain":[0.0000011988,12148000000],"nice":false},"axis":null,"title":null},"y":{"datum":-4.5,"type":"quantitative","scale":{"type":"linear","domain":[-11.1375,21.0375],"nice":false,"zero":false},"title":null},"text":{"value":"p"}}},
   {"data":{"values":[{}]},"mark":{"type":"text","fontSize":14,"fontStyle":"italic","angle":270,"align":"left","baseline":"alphabetic","dx":14.1,"dy":-4,"color":"black"},
    "encoding":{"x":{"datum":0.000067,"type":"quantitative","scale":{"type":"log","domain":[0.0000011988,12148000000],"nice":false},"axis":null,"title":null},"y":{"datum":-4.5,"type":"quantitative","scale":{"type":"linear","domain":[-11.1375,21.0375],"nice":false,"zero":false},"title":null},"text":{"value":"est"}}}
  ]}
 ],
 "resolve":{"scale":{"x":"independent","y":"independent"}}},
{"width":458,"height":286,
 "layer":[
  {"layer":[
   {"data":{"values":[{}]},"mark":{"type":"rule","color":"#9a9a9a","strokeDash":[6,3],"strokeWidth":1.3},
    "encoding":{"y":{"datum":0.5,"type":"quantitative","scale":{"type":"log","domain":[0.03,1.2],"nice":false},"title":null}}},
   {"data":{"name":"lines"},"transform":[{"filter":"datum.panel=='D'"}],"mark":{"type":"rule","color":"black","strokeDash":[4.5,2.5],"strokeWidth":1.5},
    "encoding":{"x":{"field":"s","type":"quantitative","scale":{"type":"log","domain":[0.000067,0.468],"nice":false},"title":null}}},
   {"data":{"name":"pts"},"transform":[{"filter":"datum.panel=='D'"},{"fold":["c","g"],"as":["series","p"]},{"filter":"isValid(datum.p)"}],
    "mark":{"type":"circle","size":36,"opacity":1},
    "encoding":{
     "x":{"field":"s","type":"quantitative","scale":{"type":"log","domain":[0.000067,0.468],"nice":false},"title":null,
      "axis":{"values":[0.00007,0.00008,0.00009,0.0001,0.0002,0.0003,0.0004,0.0005,0.0006,0.0007,0.0008,0.0009,0.001,0.002,0.003,0.004,0.005,0.006,0.007,0.008,0.009,0.01,0.02,0.03,0.04,0.05,0.06,0.07,0.08,0.09,0.1,0.2,0.3,0.4],
       "labelExpr":"abs(log(datum.value)/LN10-round(log(datum.value)/LN10))<0.001 ? ['10⁻⁴','10⁻³','10⁻²','10⁻¹','10⁰'][round(log(datum.value)/LN10)+4] : ''",
       "tickSize":{"condition":{"test":"abs(log(datum.value)/LN10-round(log(datum.value)/LN10))<0.001","value":6},"value":3.5},
       "tickWidth":1.3,"tickColor":"black","domainColor":"black","domainWidth":1.5,"labelFont":"DejaVu Sans","labelFontSize":24,"labelColor":"black","labelPadding":12,"labelFlush":false,"labelOverlap":false,"grid":false,"title":null}},
     "y":{"field":"p","type":"quantitative","scale":{"type":"log","domain":[0.03,1.2],"nice":false},"title":null,
      "axis":{"values":[0.03,0.04,0.05,0.06,0.07,0.08,0.09,0.1,0.2,0.3,0.4,0.5,0.6,0.7,0.8,0.9,1],
       "labelExpr":"abs(log(datum.value)/LN10-round(log(datum.value)/LN10))<0.001 ? ['10⁻⁴','10⁻³','10⁻²','10⁻¹','10⁰'][round(log(datum.value)/LN10)+4] : ''",
       "tickSize":{"condition":{"test":"abs(log(datum.value)/LN10-round(log(datum.value)/LN10))<0.001","value":6},"value":3.5},
       "tickWidth":1.3,"tickColor":"black","domainColor":"black","domainWidth":1.5,"labelFont":"DejaVu Sans","labelFontSize":24,"labelColor":"black","labelPadding":14,"labelFlush":false,"labelOverlap":false,"grid":false,"title":null}},
     "color":{"field":"series","type":"nominal","scale":{"domain":["g","c"],"range":["#006400","#a0a0a0"]},"legend":null}}},
   {"data":{"name":"lines"},"transform":[{"filter":"datum.panel=='D' && datum.kind=='sigma'"}],"mark":{"type":"text","fontStyle":"italic","fontSize":28,"align":"center","baseline":"alphabetic","dy":-7,"color":"black"},
    "encoding":{"x":{"field":"s","type":"quantitative","scale":{"type":"log","domain":[0.000067,0.468],"nice":false},"title":null},"y":{"datum":1.2,"type":"quantitative","scale":{"type":"log","domain":[0.03,1.2],"nice":false},"title":null},"text":{"value":"σ"}}},
   {"data":{"name":"lines"},"transform":[{"filter":"datum.panel=='D' && datum.kind=='sfix'"}],"mark":{"type":"text","fontStyle":"italic","fontSize":28,"align":"right","baseline":"alphabetic","dx":-20,"dy":-7,"color":"black"},
    "encoding":{"x":{"field":"s","type":"quantitative","scale":{"type":"log","domain":[0.000067,0.468],"nice":false},"title":null},"y":{"datum":1.2,"type":"quantitative","scale":{"type":"log","domain":[0.03,1.2],"nice":false},"title":null},"text":{"value":"s̄"}}},
   {"data":{"name":"lines"},"transform":[{"filter":"datum.panel=='D' && datum.kind=='sfix'"}],"mark":{"type":"text","fontStyle":"italic","fontSize":20,"align":"left","baseline":"alphabetic","dx":-19,"dy":-4,"color":"black"},
    "encoding":{"x":{"field":"s","type":"quantitative","scale":{"type":"log","domain":[0.000067,0.468],"nice":false},"title":null},"y":{"datum":1.2,"type":"quantitative","scale":{"type":"log","domain":[0.03,1.2],"nice":false},"title":null},"text":{"value":"fixed"}}},
   {"data":{"values":[{}]},"mark":{"type":"text","fontStyle":"italic","fontSize":28,"align":"left","baseline":"alphabetic","dx":9,"dy":-9.5,"color":"black"},
    "encoding":{"x":{"datum":0.000067,"type":"quantitative","scale":{"type":"log","domain":[0.000067,0.468],"nice":false},"title":null},"y":{"datum":1.2,"type":"quantitative","scale":{"type":"log","domain":[0.03,1.2],"nice":false},"title":null},"text":{"value":"N"}}},
   {"data":{"values":[{}]},"mark":{"type":"text","fontSize":28,"align":"left","baseline":"alphabetic","dx":32,"dy":-9.5,"color":"black"},
    "encoding":{"x":{"datum":0.000067,"type":"quantitative","scale":{"type":"log","domain":[0.000067,0.468],"nice":false},"title":null},"y":{"datum":1.2,"type":"quantitative","scale":{"type":"log","domain":[0.03,1.2],"nice":false},"title":null},"text":{"value":"=10"}}},
   {"data":{"values":[{}]},"mark":{"type":"text","fontSize":22,"align":"left","baseline":"alphabetic","dx":92,"dy":-19.5,"color":"black"},
    "encoding":{"x":{"datum":0.000067,"type":"quantitative","scale":{"type":"log","domain":[0.000067,0.468],"nice":false},"title":null},"y":{"datum":1.2,"type":"quantitative","scale":{"type":"log","domain":[0.03,1.2],"nice":false},"title":null},"text":{"value":"9"}}},
   {"data":{"values":[{}]},"mark":{"type":"text","fontStyle":"italic","fontSize":28,"align":"left","baseline":"alphabetic","dx":9,"dy":18.5,"color":"black"},
    "encoding":{"x":{"datum":0.000067,"type":"quantitative","scale":{"type":"log","domain":[0.000067,0.468],"nice":false},"title":null},"y":{"datum":1.2,"type":"quantitative","scale":{"type":"log","domain":[0.03,1.2],"nice":false},"title":null},"text":{"value":"U"}}},
   {"data":{"values":[{}]},"mark":{"type":"text","fontStyle":"italic","fontSize":20,"align":"left","baseline":"alphabetic","dx":30,"dy":22.5,"color":"black"},
    "encoding":{"x":{"datum":0.000067,"type":"quantitative","scale":{"type":"log","domain":[0.000067,0.468],"nice":false},"title":null},"y":{"datum":1.2,"type":"quantitative","scale":{"type":"log","domain":[0.03,1.2],"nice":false},"title":null},"text":{"value":"b"}}},
   {"data":{"values":[{}]},"mark":{"type":"text","fontSize":28,"align":"left","baseline":"alphabetic","dx":44,"dy":18.5,"color":"black"},
    "encoding":{"x":{"datum":0.000067,"type":"quantitative","scale":{"type":"log","domain":[0.000067,0.468],"nice":false},"title":null},"y":{"datum":1.2,"type":"quantitative","scale":{"type":"log","domain":[0.03,1.2],"nice":false},"title":null},"text":{"value":"=10"}}},
   {"data":{"values":[{}]},"mark":{"type":"text","fontSize":22,"align":"left","baseline":"alphabetic","dx":104,"dy":8.5,"color":"black"},
    "encoding":{"x":{"datum":0.000067,"type":"quantitative","scale":{"type":"log","domain":[0.000067,0.468],"nice":false},"title":null},"y":{"datum":1.2,"type":"quantitative","scale":{"type":"log","domain":[0.03,1.2],"nice":false},"title":null},"text":{"value":"−6"}}}
  ]},
  {"layer":[
   {"data":{"values":[{}]},"mark":{"type":"rect","fill":"transparent","stroke":"black","strokeWidth":1.5},
    "encoding":{"x":{"datum":0.000067,"type":"quantitative","scale":{"type":"log","domain":[0.0000011988,12148000000],"nice":false},"axis":null,"title":null},"x2":{"datum":0.468},
     "y":{"datum":-9,"type":"quantitative","scale":{"type":"linear","domain":[-11.1375,21.0375],"nice":false,"zero":false},"title":null},"y2":{"datum":0}}},
   {"data":{"name":"lines"},"transform":[{"filter":"datum.panel=='D'"}],"mark":{"type":"rule","color":"#333333","strokeDash":[3,2],"strokeWidth":1},
    "encoding":{"x":{"field":"s","type":"quantitative","scale":{"type":"log","domain":[0.0000011988,12148000000],"nice":false},"axis":null,"title":null},
     "y":{"datum":-9,"type":"quantitative","scale":{"type":"linear","domain":[-11.1375,21.0375],"nice":false,"zero":false},"title":null},"y2":{"datum":0}}},
   {"data":{"name":"pts"},"transform":[{"filter":"datum.panel=='D'"}],"mark":{"type":"circle","size":12,"color":"#006400","opacity":1},
    "encoding":{"x":{"field":"s","type":"quantitative","scale":{"type":"log","domain":[0.0000011988,12148000000],"nice":false},"axis":null,"title":null},
     "y":{"field":"lp","type":"quantitative","scale":{"type":"linear","domain":[-11.1375,21.0375],"nice":false,"zero":false},"title":null,
      "axis":{"orient":"right","offset":-298,"values":[-9,0],"tickSize":8,"tickWidth":1.5,"tickColor":"black","domain":false,"labelExpr":"datum.value < -1 ? 'N⁻¹' : '1'","labelFontStyle":{"condition":{"test":"datum.value < -1","value":"italic"},"value":"normal"},"labelFont":"DejaVu Sans","labelFontSize":20,"labelColor":"black","labelPadding":6,"grid":false,"title":null,"labelFlush":false,"labelOverlap":false}}}},
   {"data":{"values":[{}]},"mark":{"type":"text","fontSize":20,"angle":270,"align":"left","baseline":"alphabetic","dx":-35.5,"dy":-7,"color":"black"},
    "encoding":{"x":{"datum":0.000067,"type":"quantitative","scale":{"type":"log","domain":[0.0000011988,12148000000],"nice":false},"axis":null,"title":null},"y":{"datum":-4.5,"type":"quantitative","scale":{"type":"linear","domain":[-11.1375,21.0375],"nice":false,"zero":false},"title":null},"text":{"value":"log"}}},
   {"data":{"values":[{}]},"mark":{"type":"text","fontSize":20,"fontStyle":"italic","angle":270,"align":"left","baseline":"alphabetic","dx":1.4,"dy":-7,"color":"black"},
    "encoding":{"x":{"datum":0.000067,"type":"quantitative","scale":{"type":"log","domain":[0.0000011988,12148000000],"nice":false},"axis":null,"title":null},"y":{"datum":-4.5,"type":"quantitative","scale":{"type":"linear","domain":[-11.1375,21.0375],"nice":false,"zero":false},"title":null},"text":{"value":"p"}}},
   {"data":{"values":[{}]},"mark":{"type":"text","fontSize":14,"fontStyle":"italic","angle":270,"align":"left","baseline":"alphabetic","dx":14.1,"dy":-4,"color":"black"},
    "encoding":{"x":{"datum":0.000067,"type":"quantitative","scale":{"type":"log","domain":[0.0000011988,12148000000],"nice":false},"axis":null,"title":null},"y":{"datum":-4.5,"type":"quantitative","scale":{"type":"linear","domain":[-11.1375,21.0375],"nice":false,"zero":false},"title":null},"text":{"value":"est"}}}
  ]}
 ],
 "resolve":{"scale":{"x":"independent","y":"independent"}}},
{"width":25.5,"height":1,"data":{"values":[{}]},"mark":{"type":"text"},"encoding":{"text":{"value":""}}},
{"width":458,"height":1,"data":{"values":[{}]},
 "layer":[
  {"mark":{"type":"text","fontSize":28,"align":"left","baseline":"alphabetic","dx":77,"dy":0,"color":"black"},
   "encoding":{"x":{"datum":0.5,"type":"quantitative","scale":{"domain":[0,1]},"axis":null},"y":{"datum":0.5,"type":"quantitative","scale":{"domain":[0,1]},"axis":null},"text":{"value":"Invasion fitness,"}}},
  {"mark":{"type":"text","fontSize":28,"fontStyle":"italic","align":"left","baseline":"alphabetic","dx":313.5,"dy":0,"color":"black"},
   "encoding":{"x":{"datum":0.5,"type":"quantitative","scale":{"domain":[0,1]},"axis":null},"y":{"datum":0.5,"type":"quantitative","scale":{"domain":[0,1]},"axis":null},"text":{"value":"s"}}},
  {"mark":{"type":"text","fontSize":20,"fontStyle":"italic","align":"left","baseline":"alphabetic","dx":328.1,"dy":6,"color":"black"},
   "encoding":{"x":{"datum":0.5,"type":"quantitative","scale":{"domain":[0,1]},"axis":null},"y":{"datum":0.5,"type":"quantitative","scale":{"domain":[0,1]},"axis":null},"text":{"value":"inv"}}}
 ]}
],
"columns":3,
"spacing":{"row":116,"column":115},
"align":"each",
"bounds":"flush"
}
